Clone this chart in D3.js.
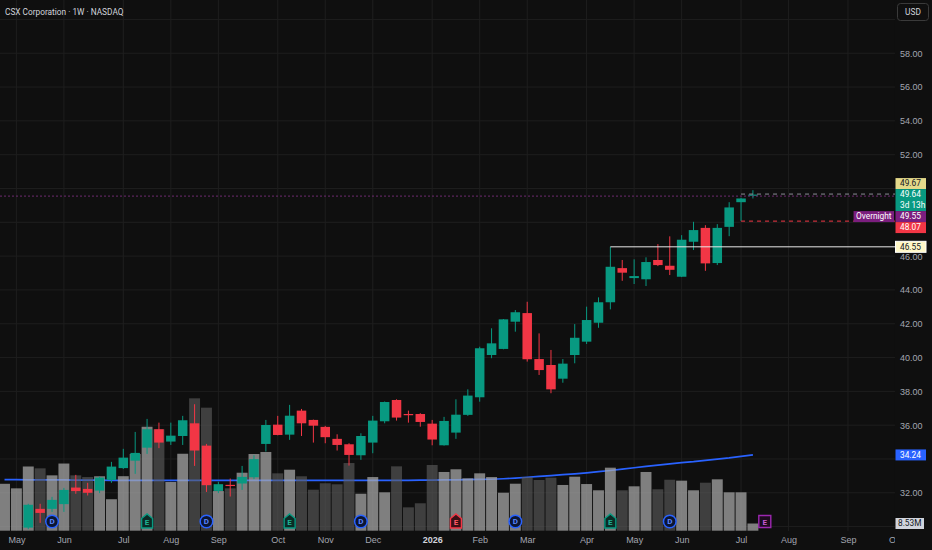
<!DOCTYPE html>
<html>
<head>
<meta charset="utf-8">
<script src="https://cdn.jsdelivr.net/npm/d3@7"></script>
<style>
    html, body { margin: 0; padding: 0; background: #0f0f0f; }
    svg { display: block; font-family: Roboto, "Noto Sans", sans-serif; }
    .axis text { fill: #a3a6af; font-size: 9px; }
    .axis path { display: none; }
</style>
</head>
<body>
<div id="chart"></div>
<script>
// --- data: CSX weekly candles, one entry per week (index 0 = late Apr 2025) ---
const opens  = [28.40, 29.05, 29.94, 31.05, 31.05, 31.33, 32.31, 32.23, 32.13, 32.76,
                33.46, 33.90, 34.67, 35.76, 35.03, 35.36, 36.11, 34.79, 32.11, 32.47,
                32.55, 32.92, 34.89, 36.03, 35.44, 36.86, 36.31, 35.90, 35.19, 34.87,
                34.22, 34.97, 36.23, 37.49, 36.66, 36.66, 36.09, 34.81, 35.56, 36.61,
                37.65, 40.15, 40.51, 42.12, 42.63, 39.91, 39.56, 38.75, 40.15, 40.94,
                42.06, 43.27, 45.29, 44.70, 44.63, 45.77, 45.43, 44.78, 46.85, 47.67,
                45.59, 47.73, 49.19, 49.57];
const highs  = [29.20, 29.70, 31.35, 31.35, 31.76, 32.29, 33.06, 32.59, 32.96, 33.83,
                34.60, 35.60, 36.37, 36.15, 36.15, 36.55, 37.24, 34.89, 32.65, 32.84,
                33.59, 34.22, 36.31, 36.55, 37.20, 36.96, 36.33, 35.96, 35.46, 34.93,
                35.52, 36.55, 37.40, 37.53, 36.86, 36.71, 36.31, 36.49, 37.53, 38.12,
                40.64, 41.73, 42.28, 42.81, 43.30, 41.43, 40.45, 39.91, 41.98, 43.01,
                43.56, 46.55, 45.77, 45.81, 45.93, 46.71, 47.17, 47.24, 48.03, 47.83,
                47.89, 49.19, 49.45, 49.90];
const lows   = [28.10, 28.80, 29.85, 30.22, 30.87, 30.87, 31.94, 31.84, 31.98, 32.59,
                33.41, 33.12, 34.30, 34.64, 34.83, 34.83, 33.59, 32.05, 31.98, 31.78,
                32.17, 32.81, 34.44, 35.40, 35.13, 35.36, 34.97, 34.93, 34.50, 33.61,
                33.95, 34.34, 36.11, 36.27, 36.15, 35.91, 34.81, 34.79, 35.19, 36.55,
                37.39, 39.96, 40.49, 41.53, 39.76, 38.97, 37.89, 38.51, 39.66, 40.80,
                41.76, 42.85, 44.54, 44.35, 44.23, 45.41, 44.88, 44.76, 46.36, 45.13,
                45.47, 47.18, 48.07, 49.41];
const closes = [29.05, 29.60, 31.29, 30.81, 31.58, 32.17, 32.10, 32.00, 32.90, 33.55,
                34.08, 34.36, 35.76, 34.97, 35.38, 36.29, 34.50, 32.45, 32.51, 32.41,
                32.94, 33.99, 36.01, 35.42, 36.56, 36.11, 35.97, 35.29, 34.83, 34.24,
                35.36, 36.27, 37.37, 36.45, 36.59, 36.19, 35.15, 36.25, 36.62, 37.75,
                40.55, 40.84, 42.26, 42.68, 39.90, 39.26, 38.12, 39.64, 41.17, 42.22,
                43.27, 45.37, 45.02, 44.82, 45.65, 45.47, 45.19, 46.97, 47.54, 45.57,
                47.67, 48.88, 49.41, 49.64];
// weekly volume, millions
const volumes = [55.6, 50.2, 76.1, 73.9, 65.6, 79.6, 65.6, 63.6, 64.5, 37.3,
                 64.6, 90.9, 123.2, 120.2, 57.7, 91.2, 156.9, 145.8, 47.0, 50.2,
                 68.7, 90.9, 93.3, 68.0, 72.3, 64.5, 48.6, 56.2, 55.0, 80.2,
                 43.8, 63.6, 45.5, 76.3, 27.7, 32.5, 77.9, 69.6, 72.8, 62.1,
                 68.0, 63.6, 45.0, 55.7, 63.6, 60.1, 62.8, 54.2, 64.0, 55.3,
                 47.9, 74.7, 47.9, 52.6, 69.6, 49.1, 60.4, 59.3, 47.9, 56.9,
                 60.9, 45.5, 45.5, 8.53];
// moving average (blue line)
const sma = [32.78, 32.78, 32.77, 32.77, 32.76, 32.76, 32.75, 32.75, 32.75, 32.74,
             32.74, 32.74, 32.74, 32.74, 32.74, 32.73, 32.73, 32.73, 32.73, 32.73,
             32.73, 32.73, 32.73, 32.73, 32.73, 32.73, 32.73, 32.73, 32.73, 32.73,
             32.73, 32.73, 32.74, 32.74, 32.74, 32.75, 32.75, 32.76, 32.77, 32.78,
             32.79, 32.80, 32.83, 32.87, 32.92, 32.97, 33.02, 33.07, 33.12, 33.18,
             33.25, 33.32, 33.40, 33.48, 33.56, 33.64, 33.71, 33.78, 33.84, 33.92,
             33.99, 34.06, 34.15, 34.24];

const monthLabels = ['May', 'Jun', 'Jul', 'Aug', 'Sep', 'Oct', 'Nov', 'Dec', '2026',
                     'Feb', 'Mar', 'Apr', 'May', 'Jun', 'Jul', 'Aug', 'Sep', 'Oct'];
const monthIdx    = [1, 5, 10, 14, 18, 23, 27, 31, 36, 40, 44, 49, 53, 57, 62, 66, 71, 75];
const priceTicks  = [30, 32, 34, 36, 38, 40, 42, 44, 46, 48, 50, 52, 54, 56, 58, 60];

const dividendIdx  = [4, 17, 30, 43, 56];
const earningsIdx  = [12, 24, 38, 51, 64];
const earningsKind = ['beat', 'beat', 'miss', 'beat', 'next'];

// price-scale labels on the right
const tagNames  = ['prev', 'last', 'overnight', 'low', 'level', 'sma'];
const tagPrices = [49.67, 49.64, 49.55, 48.07, 46.55, 34.24];
const tagTexts  = [['49.67'], ['49.64', '3d 13h'], ['49.55'], ['48.07'], ['46.55'], ['34.24']];
const volumeTag = '8.53M';

class CandleChart {

    width; height; margin;
    svg; plot; scaleX; scaleY; scaleV;
    plotW; plotH;
    tagBoxes = [];                 // [top, bottom] of every opaque label on the price scale
    up = '#089981';
    down = '#f23645';

    // margin: [top, bottom, left, right]
    constructor(container, width, height, margin){
        this.width = width;
        this.height = height;
        this.margin = margin;
        this.plotW = width - margin[2] - margin[3];
        this.plotH = height - margin[0] - margin[1];

        this.svg = d3.select(container)
            .append('svg')
            .attr('width', width)
            .attr('height', height)
            .style('background', '#0f0f0f');

        this.svg.append('clipPath').attr('id', 'plotClip')
            .append('rect').attr('width', this.plotW).attr('height', this.plotH);
        this.svg.append('clipPath').attr('id', 'timeClip')
            .append('rect').attr('width', this.plotW).attr('height', height);

        this.plot = this.svg.append('g')
            .attr('clip-path', 'url(#plotClip)');
    }

    #updateScales(){
        // 11.88px per weekly bar
        this.scaleX = d3.scaleLinear([-0.38, 74.96], [0, this.plotW]);
        this.scaleY = d3.scaleLinear([29.74, 61.15], [this.plotH, 0]);
        this.scaleV = d3.scaleLinear([0, 160], [this.plotH - 0.3, this.plotH - 135.3]);
    }

    #drawGrid(){
        let g = this.plot.append('g').attr('stroke', '#1e1e1e').attr('stroke-width', 1);
        g.selectAll('line.h').data(priceTicks).join('line')
            .attr('x1', 0).attr('x2', this.plotW)
            .attr('y1', d => this.scaleY(d)).attr('y2', d => this.scaleY(d));
        g.selectAll('line.v').data(monthIdx).join('line')
            .attr('x1', d => this.scaleX(d)).attr('x2', d => this.scaleX(d))
            .attr('y1', 0).attr('y2', this.plotH);
    }

    #drawSma(){
        let line = d3.line()
            .x((d, i) => this.scaleX(i))
            .y(d => this.scaleY(d));
        this.plot.append('path')
            .datum(sma)
            .attr('fill', 'none')
            .attr('stroke', '#2962ff')
            .attr('stroke-width', 1.7)
            .attr('d', line);
    }

    #drawVolume(){
        let step = this.scaleX(1) - this.scaleX(0),
            w = step * 0.92;
        this.plot.append('g').selectAll('rect')
            .data(volumes)
            .join('rect')
            .attr('x', (d, i) => this.scaleX(i) - w / 2)
            .attr('y', d => this.scaleV(d))
            .attr('width', w)
            .attr('height', d => this.scaleV(0) - this.scaleV(d))
            .attr('fill', (d, i) => closes[i] >= opens[i]
                ? 'rgba(170,170,170,0.72)' : 'rgba(95,95,95,0.6)');
    }

    #drawCandles(){
        let step = this.scaleX(1) - this.scaleX(0),
            bw = step * 0.8;
        let g = this.plot.append('g');
        let idx = d3.range(opens.length);
        let col = i => closes[i] >= opens[i] ? this.up : this.down;

        g.selectAll('line').data(idx).join('line')
            .attr('x1', i => this.scaleX(i)).attr('x2', i => this.scaleX(i))
            .attr('y1', i => this.scaleY(highs[i])).attr('y2', i => this.scaleY(lows[i]))
            .attr('stroke', col).attr('stroke-width', 1);

        g.selectAll('rect').data(idx).join('rect')
            .attr('x', i => this.scaleX(i) - bw / 2)
            .attr('y', i => this.scaleY(Math.max(opens[i], closes[i])))
            .attr('width', bw)
            .attr('height', i => Math.max(1.2,
                Math.abs(this.scaleY(opens[i]) - this.scaleY(closes[i]))))
            .attr('fill', col);
    }

    #drawPriceLines(){
        let last = opens.length - 1,
            y = p => this.scaleY(p);
        let g = this.plot.append('g');
        // overnight price, full width dotted
        g.append('line')
            .attr('x1', 0).attr('x2', this.plotW)
            .attr('y1', y(tagPrices[2])).attr('y2', y(tagPrices[2]))
            .attr('stroke', '#6d2a70').attr('stroke-dasharray', '2,2');
        g.append('line')
            .attr('x1', this.scaleX(last - 1)).attr('x2', this.plotW)
            .attr('y1', y(tagPrices[0])).attr('y2', y(tagPrices[0]))
            .attr('stroke', '#8a8d95').attr('stroke-dasharray', '4,4');
        g.append('line')
            .attr('x1', this.scaleX(last - 1)).attr('x2', this.plotW)
            .attr('y1', y(tagPrices[3])).attr('y2', y(tagPrices[3]))
            .attr('stroke', '#f23645').attr('stroke-dasharray', '4,4');
        // horizontal ray from the April breakout high
        g.append('line')
            .attr('x1', this.scaleX(51)).attr('x2', this.plotW)
            .attr('y1', y(tagPrices[4])).attr('y2', y(tagPrices[4]))
            .attr('stroke', '#e8e8e8').attr('stroke-width', 1);
    }

    #drawEvents(){
        let cy = this.plotH - 9.5;
        let g = this.plot.append('g').attr('font-weight', 'bold').attr('font-size', 8)
            .attr('text-anchor', 'middle');

        let div = g.selectAll('g.div').data(dividendIdx).join('g')
            .attr('transform', d => `translate(${this.scaleX(d)},${cy})`);
        div.append('circle').attr('r', 6.3)
            .attr('fill', '#0c1633').attr('stroke', '#2962ff').attr('stroke-width', 1.5);
        div.append('text').attr('dy', '0.35em').attr('fill', '#5b86ff').text('D');

        let style = {
            beat: ['#0b2b26', '#089981', '#1fb394'],
            miss: ['#3a0f15', '#f23645', '#ff5a66'],
            next: ['#1c0b1e', '#9c27b0', '#c35bcf']
        };
        let ear = g.selectAll('g.ear').data(earningsIdx).join('g')
            .attr('transform', d => `translate(${this.scaleX(d)},${cy})`);
        ear.append('path')
            .attr('d', (d, i) => earningsKind[i] === 'next'
                ? 'M-6,-6H6V6H-6Z'
                : 'M-5.5,-3L0,-7.5L5.5,-3V6.5H-5.5Z')
            .attr('fill', (d, i) => style[earningsKind[i]][0])
            .attr('stroke', (d, i) => style[earningsKind[i]][1])
            .attr('stroke-width', 1.4);
        ear.append('text').attr('dy', '0.38em')
            .attr('fill', (d, i) => style[earningsKind[i]][2]).text('E');
    }

    #updateAxes(){
        // price labels sitting under an opaque tag (or the USD button) are hidden, as on screen
        let covered = d => {
            let y = this.scaleY(d);
            return this.tagBoxes.some(([t, b]) => y > t - 3 && y < b + 3);
        };
        let axisY = d3.axisRight(this.scaleY)
            .tickValues(priceTicks.filter(d => !covered(d)))
            .tickFormat(d3.format('.2f'))
            .tickSize(0).tickPadding(5);
        this.svg.insert('g', '.tags').classed('axis', true)
            .attr('transform', `translate(${this.plotW},0)`)
            .call(axisY);

        let axisX = d3.axisBottom(this.scaleX)
            .tickValues(monthIdx)
            .tickFormat((d, i) => monthLabels[i])
            .tickSize(0).tickPadding(6);
        let gx = this.svg.append('g').classed('axis', true)
            .attr('clip-path', 'url(#timeClip)')
            .append('g')
            .attr('transform', `translate(0,${this.plotH})`)
            .call(axisX);
        gx.selectAll('text')
            .filter(d => monthLabels[monthIdx.indexOf(d)] === '2026')
            .attr('font-weight', 'bold').style('fill', '#d1d4dc');
    }

    #drawTags(){
        let lineH = 11, x0 = this.plotW + 0.5, w = 30.5;
        let fills = { prev: '#e4d98a', last: '#089981', overnight: '#7b1e7e',
                      low: '#f23645', level: '#fff8c8', sma: '#2962ff' };
        let inks  = { prev: '#131722', last: '#ffffff', overnight: '#ffffff',
                      low: '#ffffff', level: '#131722', sma: '#ffffff' };

        // stack the tags around the live price so they do not overlap
        let tops = tagPrices.map(p => this.scaleY(p) - lineH / 2);
        let hs = tagTexts.map(t => t.length * lineH);
        let a = 1;
        let prevTop = tops[a];
        for (let i = a - 1; i >= 0; i--) {
            tops[i] = Math.min(tops[i], prevTop - hs[i]);
            prevTop = tops[i];
        }
        let prevBot = tops[a] + hs[a];
        for (let i = a + 1; i < tagPrices.length; i++) {
            tops[i] = Math.max(tops[i], prevBot);
            prevBot = tops[i] + hs[i];
        }

        let g = this.svg.append('g').classed('tags', true).attr('font-size', 8.3);
        tagPrices.forEach((p, i) => {
            let name = tagNames[i];
            this.tagBoxes.push([tops[i], tops[i] + hs[i]]);
            g.append('rect')
                .attr('x', x0).attr('y', tops[i]).attr('width', w).attr('height', hs[i])
                .attr('fill', fills[name])
                .attr('stroke', name === 'level' ? '#ffffff' : 'none');
            tagTexts[i].forEach((t, k) => {
                g.append('text')
                    .attr('x', x0 + 4.5).attr('y', tops[i] + k * lineH + lineH / 2)
                    .attr('dy', '0.35em').attr('fill', inks[name]).text(t);
            });
        });

        // "Overnight" caption beside its tag
        let oi = tagNames.indexOf('overnight');
        let cap = g.append('text').attr('fill', '#ffffff')
            .attr('y', tops[oi] + lineH / 2).attr('dy', '0.35em').text('Overnight');
        let cw = cap.node().getComputedTextLength();
        g.insert('rect', () => cap.node())
            .attr('x', this.plotW - cw - 6).attr('y', tops[oi])
            .attr('width', cw + 5).attr('height', lineH).attr('fill', fills.overnight);
        cap.attr('x', this.plotW - cw - 3.5);

        // volume value
        let vy = this.scaleV(volumes[volumes.length - 1]);
        this.tagBoxes.push([vy - lineH / 2, vy + lineH / 2]);
        g.append('rect').attr('x', x0).attr('y', vy - lineH / 2)
            .attr('width', w - 2).attr('height', lineH).attr('fill', '#d1d4dc');
        g.append('text').attr('x', x0 + 2.5).attr('y', vy).attr('dy', '0.35em')
            .attr('fill', '#131722').text(volumeTag);
    }

    #drawHeader(){
        this.svg.append('text')
            .attr('x', 5).attr('y', 14.5)
            .attr('font-size', 8.3).attr('fill', '#d1d4dc')
            .text('CSX Corporation · 1W · NASDAQ');

        let b = this.svg.append('g').attr('transform', `translate(${this.plotW + 2.5},3.5)`);
        b.append('rect').attr('width', 31).attr('height', 17).attr('rx', 3)
            .attr('fill', '#0f0f0f').attr('stroke', '#3a3a3a');
        b.append('text').attr('x', 15.5).attr('y', 8.5).attr('dy', '0.35em')
            .attr('text-anchor', 'middle').attr('font-size', 8.3).attr('fill', '#d1d4dc')
            .text('USD');
        this.tagBoxes.push([3.5, 20.5]);
    }

    render(){
        this.#updateScales();
        this.#drawGrid();
        this.#drawSma();
        this.#drawVolume();
        this.#drawCandles();
        this.#drawPriceLines();
        this.#drawEvents();
        this.#drawTags();
        this.#drawHeader();
        this.#updateAxes();
        return this;
    }
}

new CandleChart('#chart', 932, 550, [0, 19, 0, 37]).render();
</script>
</body>
</html>
